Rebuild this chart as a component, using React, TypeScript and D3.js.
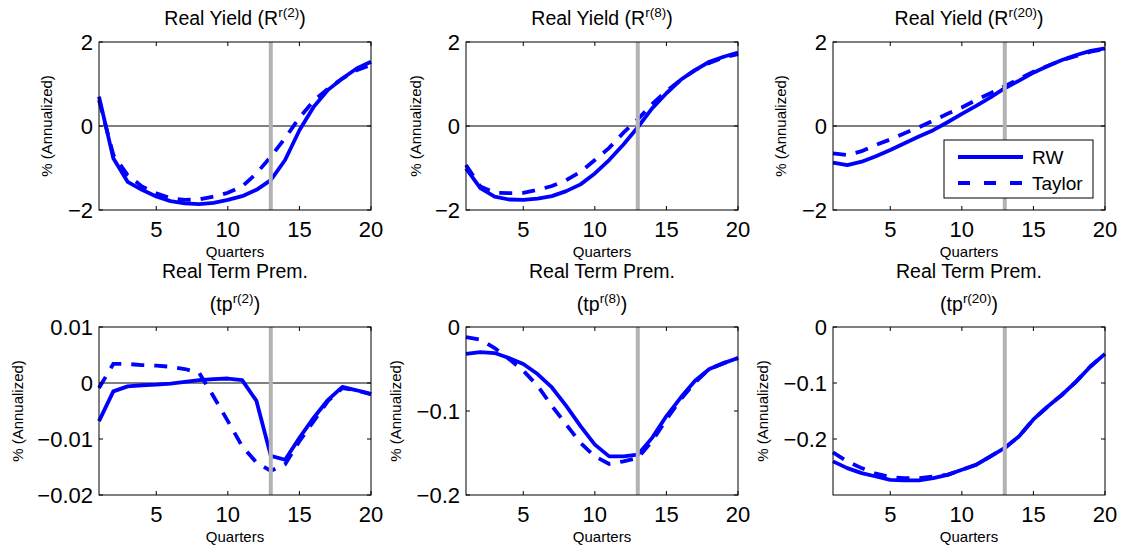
import React from 'react';
import * as d3 from 'd3';

// quarters after the shock
const quarters = [1, 2, 3, 4, 5, 6, 7, 8, 9, 10, 11, 12, 13, 14, 15, 16, 17, 18, 19, 20];
const xTicks = [5, 10, 15, 20];
const shockQuarter = 13;

// Real yields
const rwYield2 = [0.7, -0.77, -1.33, -1.52, -1.68, -1.79, -1.84, -1.86, -1.83, -1.76, -1.67, -1.52, -1.29, -0.81, -0.1, 0.46, 0.86, 1.13, 1.37, 1.53];
const taylorYield2 = [0.62, -0.69, -1.17, -1.44, -1.6, -1.72, -1.76, -1.75, -1.68, -1.59, -1.44, -1.13, -0.73, -0.29, 0.2, 0.6, 0.89, 1.13, 1.33, 1.45];
const rwYield8 = [-1.01, -1.48, -1.68, -1.75, -1.76, -1.73, -1.67, -1.55, -1.39, -1.13, -0.81, -0.44, -0.03, 0.42, 0.78, 1.1, 1.33, 1.53, 1.65, 1.75];
const taylorYield8 = [-0.93, -1.44, -1.59, -1.6, -1.59, -1.52, -1.43, -1.29, -1.09, -0.81, -0.52, -0.16, 0.16, 0.52, 0.83, 1.1, 1.33, 1.5, 1.63, 1.71];
const rwYield20 = [-0.87, -0.93, -0.85, -0.72, -0.57, -0.41, -0.25, -0.1, 0.09, 0.29, 0.48, 0.68, 0.9, 1.08, 1.27, 1.43, 1.57, 1.69, 1.79, 1.85];
const taylorYield20 = [-0.65, -0.69, -0.6, -0.45, -0.32, -0.17, -0.03, 0.13, 0.29, 0.44, 0.62, 0.78, 0.95, 1.12, 1.29, 1.43, 1.57, 1.67, 1.77, 1.83];

// Real term premia
const rwTp2 = [-0.0068, -0.0015, -0.0006, -0.0004, -0.0003, -0.0001, 0.0002, 0.0005, 0.0007, 0.0008, 0.0005, -0.0032, -0.013, -0.0137, -0.0098, -0.0062, -0.003, -0.0007, -0.0013, -0.002];
const taylorTp2 = [-0.0009, 0.0034, 0.0034, 0.0032, 0.0031, 0.0029, 0.0025, 0.0018, -0.0024, -0.0068, -0.0113, -0.0142, -0.0157, -0.0145, -0.0104, -0.0068, -0.0032, -0.0009, -0.0013, -0.002];
const rwTp8 = [-0.032, -0.03, -0.031, -0.037, -0.044, -0.056, -0.072, -0.094, -0.118, -0.14, -0.154, -0.154, -0.152, -0.132, -0.106, -0.084, -0.064, -0.05, -0.043, -0.037];
const taylorTp8 = [-0.012, -0.015, -0.025, -0.038, -0.052, -0.07, -0.094, -0.116, -0.138, -0.154, -0.163, -0.16, -0.156, -0.136, -0.11, -0.086, -0.066, -0.05, -0.043, -0.037];
const rwTp20 = [-0.24, -0.252, -0.261, -0.267, -0.273, -0.274, -0.274, -0.27, -0.264, -0.255, -0.246, -0.231, -0.216, -0.195, -0.165, -0.142, -0.121, -0.097, -0.07, -0.048];
const taylorTp20 = [-0.224, -0.24, -0.252, -0.262, -0.268, -0.27, -0.27, -0.267, -0.264, -0.255, -0.246, -0.231, -0.216, -0.195, -0.165, -0.142, -0.121, -0.097, -0.07, -0.048];

const yieldTicks = [-2, 0, 2];
const tp2Ticks = [-0.02, -0.01, 0, 0.01];
const tp8Ticks = [-0.2, -0.1, 0];
const tp20Ticks = [-0.2, -0.1, 0];

const FONT = 'Liberation Sans, Arial, Helvetica, sans-serif';
const BLUE = '#0000ff';

type Panel = {
  line1?: string;
  main: string;
  sup: string;
  rw: number[];
  taylor: number[];
  domain: [number, number];
  ticks: number[];
  col: number;
  row: number;
  labelOffset: number;
  legend?: boolean;
};

const panels: Panel[] = [
  { main: 'Real Yield (R', sup: 'r(2)', rw: rwYield2, taylor: taylorYield2, domain: [-2, 2], ticks: yieldTicks, col: 0, row: 0, labelOffset: 47 },
  { main: 'Real Yield (R', sup: 'r(8)', rw: rwYield8, taylor: taylorYield8, domain: [-2, 2], ticks: yieldTicks, col: 1, row: 0, labelOffset: 45 },
  { main: 'Real Yield (R', sup: 'r(20)', rw: rwYield20, taylor: taylorYield20, domain: [-2, 2], ticks: yieldTicks, col: 2, row: 0, labelOffset: 47, legend: true },
  { line1: 'Real Term Prem.', main: '(tp', sup: 'r(2)', rw: rwTp2, taylor: taylorTp2, domain: [-0.02, 0.01], ticks: tp2Ticks, col: 0, row: 1, labelOffset: 76 },
  { line1: 'Real Term Prem.', main: '(tp', sup: 'r(8)', rw: rwTp8, taylor: taylorTp8, domain: [-0.2, 0], ticks: tp8Ticks, col: 1, row: 1, labelOffset: 65 },
  { line1: 'Real Term Prem.', main: '(tp', sup: 'r(20)', rw: rwTp20, taylor: taylorTp20, domain: [-0.3, 0], ticks: tp20Ticks, col: 2, row: 1, labelOffset: 65 },
];

const colLeft = [99, 466, 833];
const rowTop = [42, 327];
const W = 272;
const H = 168;
const TICK = 4;

const fmt = (v: number) => {
  const s = String(Math.abs(v));
  return v < 0 ? '\u2212' + s : s;
};

const PanelView = ({ p }: { p: Panel }) => {
  const left = colLeft[p.col];
  const top = rowTop[p.row];
  const x = d3.scaleLinear().domain([1, 20]).range([left, left + W]);
  const y = d3.scaleLinear().domain(p.domain).range([top + H, top]);
  const line = d3.line<number>().x((_, i) => x(quarters[i])).y(d => y(d));
  const cx = left + W / 2;

  return (
    <g>
      {/* title */}
      {p.line1 && (
        <text x={cx} y={278} textAnchor="middle" fontSize={19.5}>{p.line1}</text>
      )}
      <text x={cx} y={p.row === 0 ? 25 : 311} textAnchor="middle" fontSize={19.5}>
        {p.main}
        <tspan dy={-8} fontSize={13.5}>{p.sup}</tspan>
        <tspan dy={8}>)</tspan>
      </text>

      {/* zero line */}
      {p.domain[0] < 0 && p.domain[1] > 0 && (
        <line x1={left} x2={left + W} y1={y(0)} y2={y(0)} stroke="#000" strokeWidth={1} />
      )}

      <path d={line(p.rw) || ''} fill="none" stroke={BLUE} strokeWidth={3.8} strokeLinejoin="round" />
      <path d={line(p.taylor) || ''} fill="none" stroke={BLUE} strokeWidth={3.8} strokeDasharray="13,10" />

      {/* shock quarter */}
      <line x1={x(shockQuarter)} x2={x(shockQuarter)} y1={top} y2={top + H} stroke="#b3b3b3" strokeWidth={4} />

      {/* box and ticks */}
      <rect x={left} y={top} width={W} height={H} fill="none" stroke="#000" strokeWidth={1} />
      {xTicks.map(t => (
        <g key={'x' + t}>
          <line x1={x(t)} x2={x(t)} y1={top + H} y2={top + H - TICK} stroke="#000" />
          <line x1={x(t)} x2={x(t)} y1={top} y2={top + TICK} stroke="#000" />
          <text x={x(t)} y={top + H + 27} textAnchor="middle" fontSize={22}>{t}</text>
        </g>
      ))}
      {p.ticks.map(t => (
        <g key={'y' + t}>
          <line x1={left} x2={left + TICK} y1={y(t)} y2={y(t)} stroke="#000" />
          <line x1={left + W} x2={left + W - TICK} y1={y(t)} y2={y(t)} stroke="#000" />
          <text x={left - 6} y={y(t) + 8} textAnchor="end" fontSize={22}>{fmt(t)}</text>
        </g>
      ))}

      {/* axis labels */}
      <text x={cx} y={top + H + 47} textAnchor="middle" fontSize={15}>Quarters</text>
      <text transform={`translate(${left - p.labelOffset},${top + H / 2}) rotate(-90)`} textAnchor="middle" fontSize={15}>% (Annualized)</text>

      {p.legend && (
        <g>
          <rect x={944} y={140} width={149} height={58} fill="#fff" stroke="#000" strokeWidth={1} />
          <line x1={958} x2={1023} y1={157} y2={157} stroke={BLUE} strokeWidth={3.8} />
          <line x1={958} x2={1023} y1={183} y2={183} stroke={BLUE} strokeWidth={3.8} strokeDasharray="12,14" />
          <text x={1032} y={163.5} fontSize={19}>RW</text>
          <text x={1032} y={189.5} fontSize={19}>Taylor</text>
        </g>
      )}
    </g>
  );
};

export default function App() {
  return (
    <svg
      width={1123}
      height={552}
      style={{ position: 'absolute', left: 0, top: 0, background: '#fff' }}
      fontFamily={FONT}
    >
      <rect width={1123} height={552} fill="#fff" />
      {panels.map((p, i) => (
        <PanelView key={i} p={p} />
      ))}
    </svg>
  );
}
